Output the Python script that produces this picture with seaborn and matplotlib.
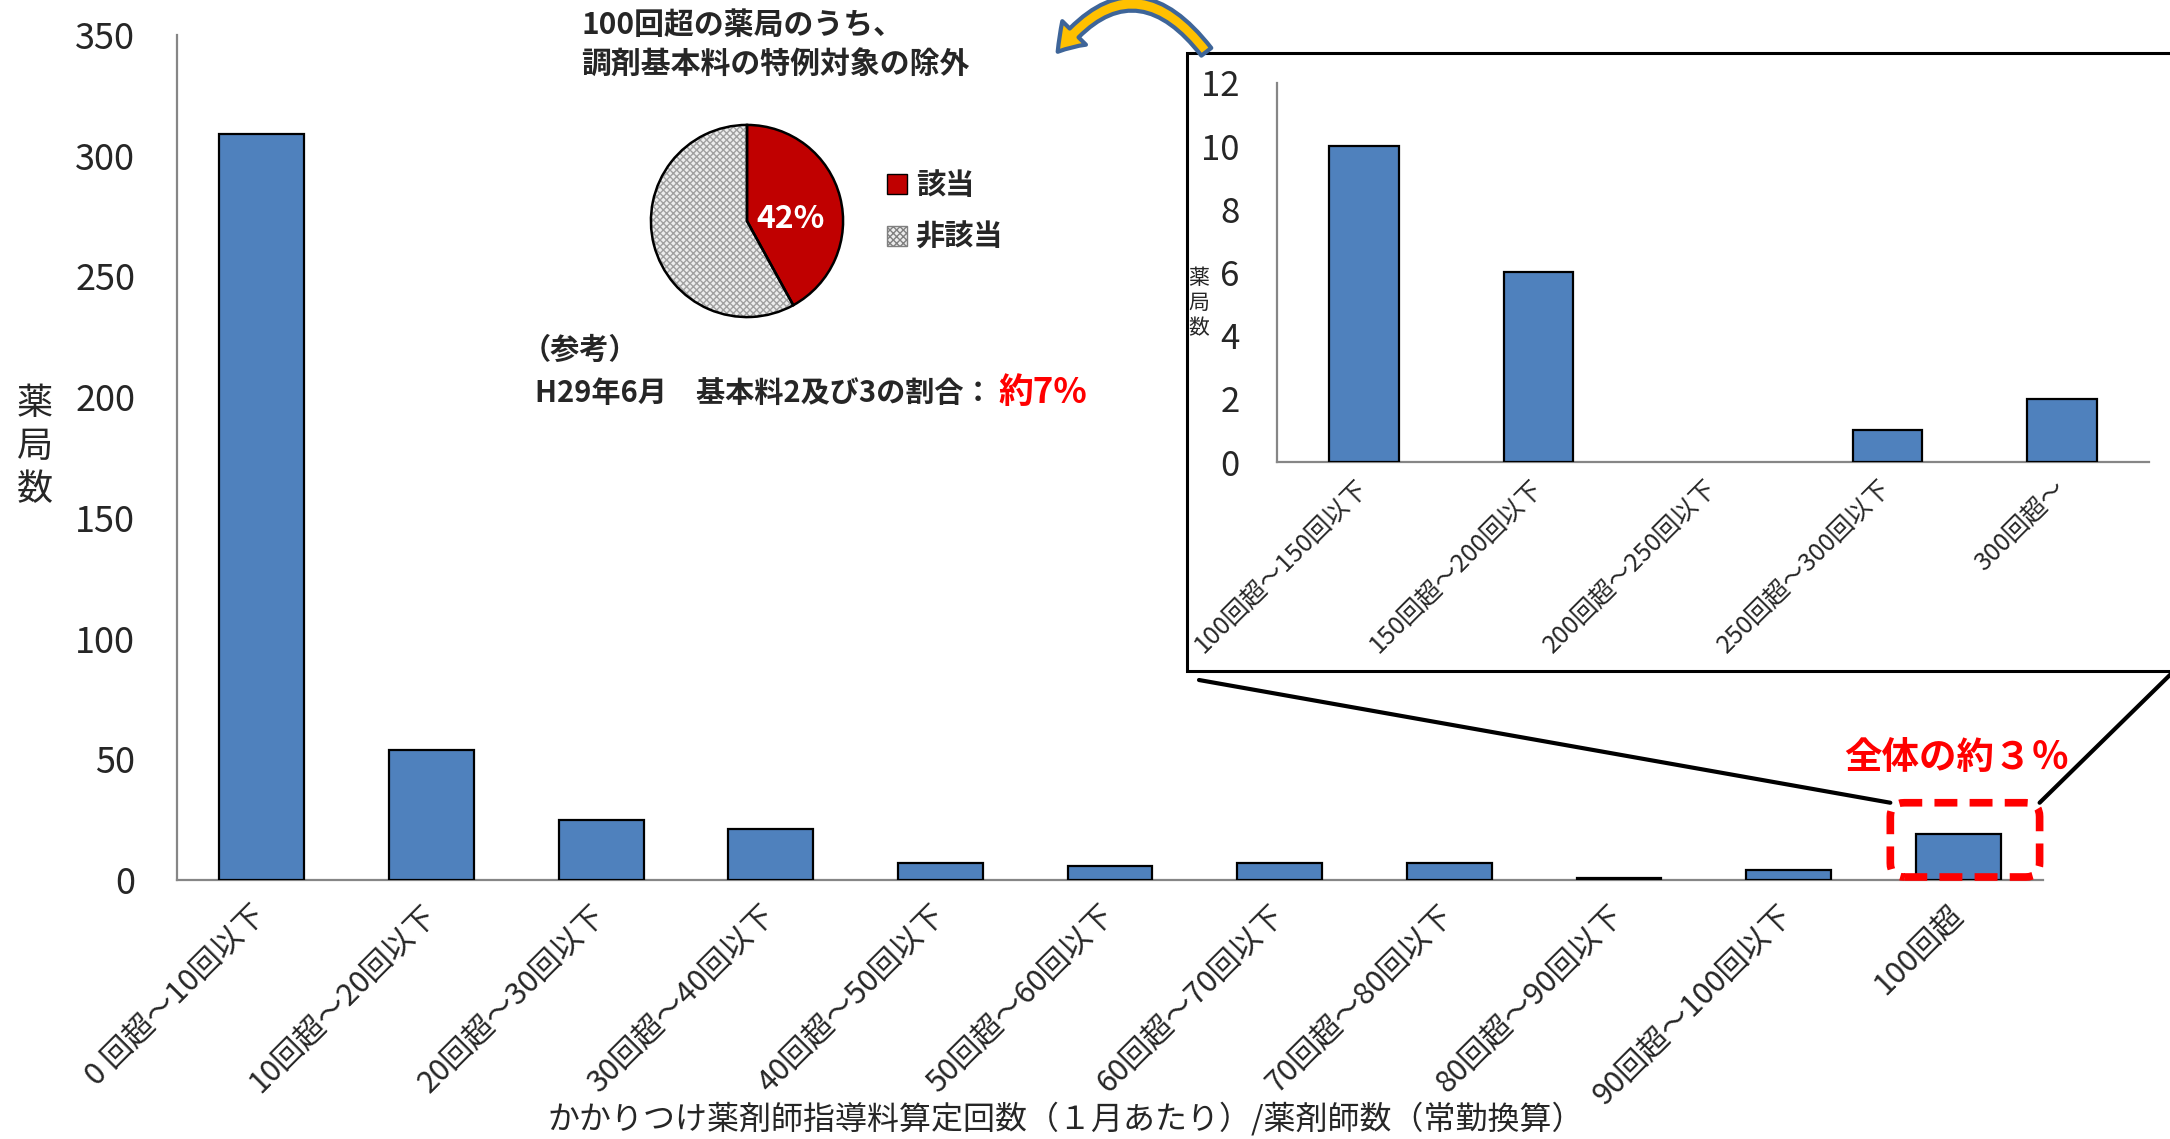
import numpy as np
import pandas as pd
import matplotlib
matplotlib.use("Agg")
import matplotlib.pyplot as plt
import seaborn as sns
from matplotlib.patches import Rectangle, FancyBboxPatch, FancyArrowPatch, Patch
from matplotlib.lines import Line2D
from matplotlib.transforms import IdentityTransform

sns.set_style("white")
plt.rcParams["font.family"] = ["Noto Sans CJK JP", "DejaVu Sans"]

# Number of pharmacies by monthly count of the family-pharmacist fee per pharmacist
ranges = ["0 回超～10回以下", "10回超～20回以下", "20回超～30回以下", "30回超～40回以下",
          "40回超～50回以下", "50回超～60回以下", "60回超～70回以下", "70回超～80回以下",
          "80回超～90回以下", "90回超～100回以下", "100回超"]
pharmacies = [309, 54, 25, 21, 7, 6, 7, 7, 1, 4, 19]

# Breakdown of the "100回超" group
over100_ranges = ["100回超～150回以下", "150回超～200回以下", "200回超～250回以下",
                  "250回超～300回以下", "300回超～"]
over100_pharmacies = [10, 6, 0, 1, 2]

# Share of the over-100 pharmacies excluded from the special dispensing base fee
exempt_labels = ["該当", "非該当"]
exempt_share = [42, 58]

main_yticks = [0, 50, 100, 150, 200, 250, 300, 350]
inset_yticks = [0, 2, 4, 6, 8, 10, 12]

W, H = 2170, 1139
fig = plt.figure(figsize=(W / 100, H / 100), dpi=100)


def fx(px):
    return px / W


def fy(py):
    return 1 - py / H


BLUE = "#4F81BD"
GRAY = "#868686"
RED = "#FF0000"


def draw_bars(a, labels, values, yticks, width, ytick_fs, xtick_fs, ypad, xpad):
    df = pd.DataFrame({"range": labels, "count": values})
    sns.barplot(data=df, x="range", y="count", color=BLUE, saturation=1,
                edgecolor="black", linewidth=1.6, width=width, ax=a, zorder=3)
    # empty classes get no outline
    for p in a.patches:
        if p.get_height() == 0:
            p.set_linewidth(0)
    n = len(labels)
    a.set_xlim(-0.5, n - 0.5)
    a.set_ylim(yticks[0], yticks[-1])
    a.set_yticks(yticks)
    a.set_yticklabels([str(v) for v in yticks], fontsize=ytick_fs)
    a.set_xticks(range(n))
    a.set_xticklabels(labels, rotation=45, ha="right", va="center",
                      rotation_mode="anchor", fontsize=xtick_fs)
    a.tick_params(axis="x", which="major", length=0, pad=xpad)
    a.set_xticks(np.arange(-0.5, n), minor=True)
    a.tick_params(axis="x", which="minor", length=10, width=1.6, color=GRAY,
                  direction="out")
    a.tick_params(axis="y", length=8, width=1.6, color=GRAY, direction="out",
                  pad=ypad)
    for s in ["top", "right"]:
        a.spines[s].set_visible(False)
    for s in ["left", "bottom"]:
        a.spines[s].set_color(GRAY)
        a.spines[s].set_linewidth(1.6)
    a.set_xlabel("")
    a.set_ylabel("")
    a.patch.set_alpha(0)


# ---- main bar chart ----
ax = fig.add_axes([fx(177), fy(880), fx(2043 - 177), (880 - 35) / H])
draw_bars(ax, ranges, pharmacies, main_yticks, 0.5, 26, 22, 22, 22)

fig.text(fx(35), fy(447), "\n".join("薬局数"), fontsize=26, ha="center",
         va="center", linespacing=1.25)
fig.text(fx(1066), fy(1119), "かかりつけ薬剤師指導料算定回数（１月あたり）/薬剤師数（常勤換算）",
         fontsize=23, ha="center", va="center")

# ---- inset frame and chart ----
fig.add_artist(Rectangle((fx(1187), fy(671)), fx(1100), (671 - 53) / H,
                         transform=fig.transFigure, facecolor="white",
                         edgecolor="black", linewidth=2.2, zorder=1))
iax = fig.add_axes([fx(1277), fy(462), fx(2149 - 1277), (462 - 83) / H])
iax.set_zorder(2)
draw_bars(iax, over100_ranges, over100_pharmacies, inset_yticks, 0.4, 25, 18, 19, 16)
fig.text(fx(1199), fy(303), "\n".join("薬局数"), fontsize=15, ha="center",
         va="center", linespacing=1.2, zorder=3)

# ---- highlight of the 100回超 bar ----
fig.canvas.draw()
idx = len(ranges) - 1
x0, y0 = ax.transData.transform((idx - 0.40, 0))
x1, y1 = ax.transData.transform((idx + 0.48, pharmacies[idx] + 13))
box = FancyBboxPatch((x0, y0 + 3), x1 - x0, y1 - y0 - 3,
                     boxstyle="round,pad=0,rounding_size=14",
                     transform=IdentityTransform(), facecolor="none",
                     edgecolor=RED, linewidth=5.5, linestyle=(0, (3, 1.6)),
                     zorder=6)
fig.add_artist(box)
fig.text((x0 + x1) / 2 / W - fx(8), fy(757), "全体の約３％", fontsize=27, color=RED,
         fontweight="bold", ha="center", va="center")

# connector lines from the inset to the highlighted bar
fig.add_artist(Line2D([fx(1199), x0 / W], [fy(680), y1 / H], color="black",
                      linewidth=3, transform=fig.transFigure, zorder=5))
fig.add_artist(Line2D([fx(2175), x1 / W], [fy(670), y1 / H], color="black",
                      linewidth=3, transform=fig.transFigure, zorder=5))

# curved arrow pointing from the inset to the pie
fig.add_artist(FancyArrowPatch((fx(1208), fy(54)), (fx(1056), fy(54)),
                               connectionstyle="arc3,rad=0.66",
                               arrowstyle="simple,head_length=18,head_width=24,tail_width=9",
                               transform=fig.transFigure, facecolor="#FFC000",
                               edgecolor="#3E6599", linewidth=3, zorder=4))

# ---- pie of exemption share ----
pax = fig.add_axes([fx(747 - 98), fy(221 + 98), fx(196), 196 / H])
wedges, _ = pax.pie(exempt_share, startangle=90, counterclock=False,
                    colors=["#C00000", "#EDEDED"],
                    wedgeprops=dict(linewidth=0, edgecolor="#A0A0A0"))
wedges[0].set_edgecolor("#C00000")
wedges[1].set_hatch("xxxxx")
pax.pie(exempt_share, startangle=90, counterclock=False, colors=["none", "none"],
        wedgeprops=dict(linewidth=1.8, edgecolor="black"))
pax.set_xlim(-1.02, 1.02)
pax.set_ylim(-1.02, 1.02)
pax.set_aspect("equal")
pax.text(0.45, 0.02, f"{exempt_share[0]}%", color="white", fontsize=23,
         fontweight="bold", ha="center", va="center")

handles = [Patch(facecolor="#C00000", edgecolor="black", linewidth=1),
           Patch(facecolor="#EDEDED", edgecolor="#808080", hatch="xxxxx", linewidth=1)]
fig.legend(handles, exempt_labels, loc="center left",
           bbox_to_anchor=(fx(872), fy(211)), frameon=False,
           prop=dict(size=21, weight="bold"), handlelength=0.7, handleheight=0.7,
           handletextpad=0.3, labelspacing=0.75, borderpad=0)

# ---- annotation texts ----
fig.text(fx(581), fy(25), "100回超の薬局のうち、", fontsize=21.5, fontweight="bold",
         ha="left", va="center")
fig.text(fx(581), fy(65), "調剤基本料の特例対象の除外", fontsize=21.5, fontweight="bold",
         ha="left", va="center")
fig.text(fx(522), fy(350), "（参考）", fontsize=21, fontweight="bold",
         ha="left", va="center")
t1 = fig.text(fx(535), fy(393), "H29年6月　基本料2及び3の割合：", fontsize=21,
              fontweight="bold", ha="left", va="center")
ax.annotate("約7%", xy=(1, 0.5), xycoords=t1, xytext=(4, 0),
            textcoords="offset points", fontsize=25, fontweight="bold",
            color=RED, ha="left", va="center")

fig.savefig("out.png", dpi=100)
